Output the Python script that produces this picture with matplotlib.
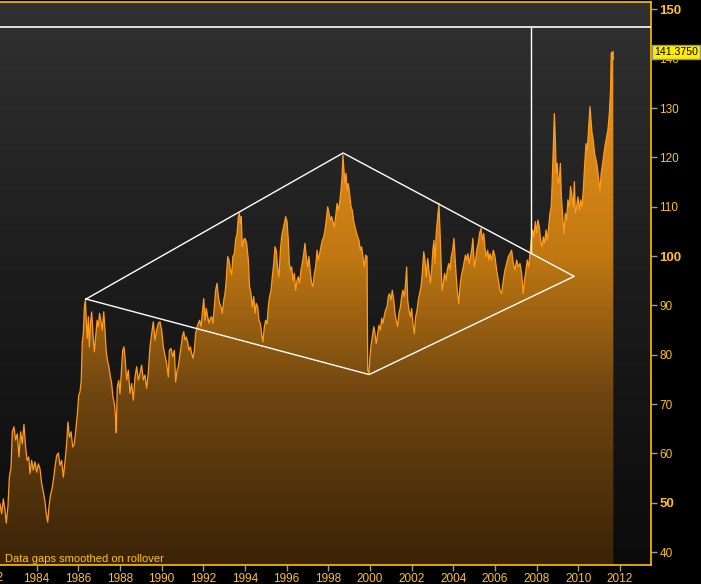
import matplotlib
matplotlib.use("Agg")
import matplotlib.pyplot as plt
import numpy as np
from matplotlib.colors import LinearSegmentedColormap
from matplotlib.patches import Polygon

plt.rcParams['font.family'] = ['Liberation Sans', 'DejaVu Sans']

# price series (decimal year, price)
years = [
    1982.24, 1982.32, 1982.40, 1982.48, 1982.54, 1982.62, 1982.69, 1982.77, 1982.83, 1982.91,
    1982.99, 1983.07, 1983.15, 1983.23, 1983.31, 1983.39, 1983.47, 1983.54, 1983.62, 1983.68,
    1983.76, 1983.84, 1983.92, 1984.00, 1984.08, 1984.16, 1984.24, 1984.32, 1984.40, 1984.46,
    1984.53, 1984.59, 1984.66, 1984.74, 1984.82, 1984.88, 1984.96, 1985.04, 1985.12, 1985.20,
    1985.28, 1985.36, 1985.44, 1985.50, 1985.57, 1985.65, 1985.73, 1985.81, 1985.89, 1985.95,
    1986.02, 1986.08, 1986.14, 1986.19, 1986.24, 1986.29, 1986.34, 1986.38, 1986.43, 1986.48,
    1986.53, 1986.58, 1986.64, 1986.70, 1986.77, 1986.83, 1986.90, 1986.96, 1987.02, 1987.09,
    1987.15, 1987.22, 1987.28, 1987.34, 1987.41, 1987.47, 1987.54, 1987.60, 1987.66, 1987.73,
    1987.78, 1987.82, 1987.87, 1987.94, 1988.00, 1988.06, 1988.13, 1988.19,
    1988.24, 1988.32, 1988.40, 1988.48, 1988.56, 1988.64, 1988.72, 1988.80, 1988.88, 1988.96,
    1989.04, 1989.12, 1989.20, 1989.28, 1989.36, 1989.44, 1989.52, 1989.60, 1989.68, 1989.76,
    1989.84, 1989.92, 1990.00, 1990.08, 1990.16, 1990.24, 1990.32, 1990.37, 1990.45, 1990.53,
    1990.61, 1990.67, 1990.74, 1990.80, 1990.86, 1990.93, 1990.99, 1991.06, 1991.12, 1991.18,
    1991.25, 1991.31, 1991.38, 1991.44, 1991.50, 1991.57, 1991.63, 1991.70, 1991.76, 1991.82,
    1991.89, 1991.95, 1992.02, 1992.08, 1992.14, 1992.21, 1992.27, 1992.34, 1992.40, 1992.46,
    1992.53, 1992.59, 1992.66, 1992.72, 1992.78, 1992.85, 1992.91, 1992.98, 1993.04, 1993.10,
    1993.17, 1993.23, 1993.30, 1993.36, 1993.42, 1993.49, 1993.55, 1993.62, 1993.68, 1993.73,
    1993.78, 1993.82, 1993.87, 1993.94,
    1994.00, 1994.08, 1994.16, 1994.22, 1994.29, 1994.35, 1994.42, 1994.48, 1994.54, 1994.61,
    1994.67, 1994.74, 1994.80, 1994.86, 1994.93, 1994.99, 1995.06, 1995.12, 1995.18, 1995.25,
    1995.31, 1995.38, 1995.44, 1995.50, 1995.57, 1995.63, 1995.70, 1995.76, 1995.82, 1995.89,
    1995.95, 1996.02, 1996.08, 1996.13, 1996.18, 1996.24, 1996.30, 1996.37, 1996.43, 1996.50,
    1996.56, 1996.62, 1996.69, 1996.75, 1996.82, 1996.88, 1996.94, 1997.01, 1997.07, 1997.14,
    1997.20, 1997.26, 1997.33, 1997.39, 1997.46, 1997.52, 1997.58, 1997.65, 1997.71, 1997.78,
    1997.84, 1997.90, 1997.97, 1998.03, 1998.10, 1998.16, 1998.22, 1998.29, 1998.35, 1998.42,
    1998.48, 1998.54, 1998.61, 1998.66, 1998.70, 1998.75, 1998.80, 1998.85, 1998.90, 1998.96,
    1999.02, 1999.09, 1999.15, 1999.22, 1999.28, 1999.34, 1999.41, 1999.47, 1999.54, 1999.60,
    1999.66, 1999.73, 1999.79, 1999.86, 1999.89, 1999.95, 2000.00,
    2000.05, 2000.11, 2000.18, 2000.24, 2000.30, 2000.37, 2000.43, 2000.50, 2000.56, 2000.62,
    2000.69, 2000.75, 2000.82, 2000.88, 2000.94, 2001.01, 2001.07, 2001.14, 2001.20, 2001.26,
    2001.33, 2001.39, 2001.46, 2001.52, 2001.58, 2001.65, 2001.71, 2001.76, 2001.81, 2001.87,
    2001.94, 2002.00, 2002.06, 2002.13, 2002.19, 2002.26, 2002.32, 2002.38, 2002.45, 2002.51,
    2002.58, 2002.64, 2002.70, 2002.77, 2002.83, 2002.90, 2002.96, 2003.02, 2003.07, 2003.12,
    2003.18, 2003.25, 2003.31, 2003.36, 2003.41, 2003.46, 2003.52, 2003.58, 2003.65, 2003.71,
    2003.78, 2003.84, 2003.90, 2003.97, 2004.03, 2004.08, 2004.13, 2004.19, 2004.26, 2004.32,
    2004.38, 2004.45, 2004.51, 2004.58, 2004.64, 2004.70, 2004.77, 2004.83, 2004.90, 2004.94,
    2005.01, 2005.07, 2005.14, 2005.20, 2005.26, 2005.33, 2005.39, 2005.46, 2005.52, 2005.58,
    2005.65, 2005.71,
    2005.76, 2005.84, 2005.92, 2006.00, 2006.08, 2006.16, 2006.24, 2006.32, 2006.40, 2006.48,
    2006.56, 2006.64, 2006.72, 2006.80, 2006.88, 2006.96, 2007.04, 2007.12, 2007.20, 2007.28,
    2007.36, 2007.42, 2007.49, 2007.55, 2007.62, 2007.68, 2007.74, 2007.81, 2007.87, 2007.94,
    2008.00, 2008.06, 2008.13, 2008.19, 2008.26, 2008.32, 2008.38, 2008.45, 2008.51, 2008.58,
    2008.64, 2008.70, 2008.75, 2008.80, 2008.85, 2008.90, 2008.94, 2008.99, 2009.04, 2009.09,
    2009.14, 2009.18, 2009.25, 2009.31, 2009.38, 2009.44, 2009.50, 2009.57, 2009.63, 2009.70,
    2009.76, 2009.81, 2009.86, 2009.92, 2009.98, 2010.05, 2010.11, 2010.18, 2010.24, 2010.30,
    2010.37, 2010.43, 2010.50, 2010.56, 2010.61, 2010.66, 2010.72, 2010.78, 2010.85, 2010.91,
    2010.98, 2011.04, 2011.10, 2011.17, 2011.23, 2011.30, 2011.36, 2011.42, 2011.49, 2011.55,
    2011.58, 2011.62, 2011.66, 2011.68,
]
prices = [
    49.8, 47.8, 50.8, 48.5, 45.9, 49.2, 55.2, 57.3, 64.4, 65.4,
    62.7, 64.0, 59.3, 64.4, 62.0, 65.9, 61.3, 58.6, 59.3, 55.9,
    58.6, 56.6, 58.3, 56.2, 57.9, 56.9, 53.9, 52.2, 50.2, 47.8,
    46.1, 49.2, 51.5, 52.9, 55.2, 57.3, 59.6, 60.1, 57.6, 58.6,
    55.2, 58.3, 62.0, 66.4, 63.3, 64.4, 61.3, 62.0, 65.4, 67.8,
    71.8, 72.5, 74.8, 82.6, 84.3, 89.7, 91.1, 87.0, 83.3, 87.7,
    81.6, 86.3, 88.7, 84.3, 80.6, 83.6, 87.0, 85.7, 88.4, 86.7,
    85.0, 88.7, 85.0, 80.6, 78.6, 77.5, 75.5, 74.2, 71.5, 70.1,
    67.7, 64.2, 73.5, 74.8, 72.1, 76.2, 80.9, 81.6,
    79.6, 74.9, 76.9, 72.2, 74.2, 70.8, 75.5, 77.6, 74.9, 76.2,
    77.9, 74.9, 75.9, 73.2, 76.5, 81.6, 84.3, 86.7, 83.0, 85.0,
    86.4, 86.7, 85.0, 81.6, 79.9, 78.2, 75.5, 80.9, 81.3, 79.6,
    80.9, 74.5, 76.9, 77.6, 79.6, 81.6, 83.6, 84.7, 83.0, 83.6,
    82.6, 80.9, 81.6, 80.3, 79.3, 80.9, 84.3, 85.7, 86.4, 87.0,
    85.7, 88.4, 91.4, 87.0, 89.4, 87.7, 86.4, 87.4, 87.7, 86.4,
    89.7, 93.1, 94.5, 91.8, 90.4, 89.7, 88.4, 91.1, 92.4, 95.1,
    99.9, 99.2, 97.2, 96.2, 99.9, 100.5, 103.3, 104.6, 108.0, 108.7,
    106.6, 108.0, 101.9, 103.3,
    103.6, 102.6, 99.2, 93.8, 92.4, 89.7, 91.8, 88.4, 90.4, 89.7,
    87.0, 86.3, 84.3, 82.6, 85.7, 87.0, 86.3, 89.7, 91.8, 93.1,
    95.8, 98.5, 101.9, 101.2, 97.5, 95.8, 101.2, 103.9, 105.3, 106.6,
    108.0, 107.0, 103.2, 98.5, 97.2, 97.8, 95.1, 96.5, 93.1, 95.1,
    95.8, 94.5, 97.2, 98.5, 100.5, 102.6, 99.9, 97.8, 99.9, 96.5,
    94.5, 93.8, 96.5, 97.8, 101.2, 99.2, 100.5, 101.9, 103.2, 103.9,
    105.3, 107.3, 110.0, 108.7, 107.3, 108.0, 107.0, 105.9, 108.0, 110.7,
    109.3, 110.7, 113.4, 116.1, 120.5, 117.4, 114.7, 116.8, 113.4, 114.7,
    112.7, 110.0, 109.3, 107.0, 105.9, 104.9, 103.9, 103.2, 101.2, 101.9,
    99.9, 97.8, 100.2, 99.9, 76.9, 76.2, 79.6,
    81.9, 83.6, 85.7, 84.3, 82.3, 84.3, 86.0, 85.0, 87.4, 86.4,
    88.0, 89.1, 89.7, 91.8, 92.4, 91.1, 93.1, 91.1, 88.4, 87.0,
    85.7, 88.4, 89.7, 91.8, 93.1, 91.8, 94.5, 97.8, 91.1, 89.1,
    87.7, 89.4, 86.4, 84.3, 87.7, 89.1, 91.1, 92.4, 93.8, 96.5,
    100.9, 99.2, 95.8, 99.5, 97.2, 94.5, 97.2, 101.2, 103.2, 98.5,
    104.6, 108.0, 110.7, 105.3, 99.2, 93.1, 94.5, 96.5, 95.1, 97.2,
    98.5, 97.2, 99.9, 101.2, 103.6, 99.9, 96.5, 93.1, 90.4, 93.8,
    95.8, 97.2, 98.5, 100.2, 99.2, 100.5, 98.5, 99.9, 101.9, 103.6,
    97.8, 99.2, 101.6, 102.6, 104.6, 105.6, 103.2, 104.6, 101.6, 99.9,
    101.2, 99.2,
    100.5, 99.2, 101.2, 99.9, 97.2, 95.1, 93.1, 92.4, 95.1, 97.2,
    98.5, 99.9, 100.5, 101.2, 98.5, 97.2, 99.2, 97.8, 98.5, 96.5,
    92.4, 95.1, 97.2, 99.2, 97.8, 100.5, 103.2, 105.3, 103.9, 107.0,
    104.6, 107.3, 105.9, 103.2, 101.9, 103.9, 102.6, 105.3, 103.2, 105.9,
    108.7, 110.0, 115.4, 122.2, 128.9, 123.5, 116.8, 118.8, 114.7, 115.4,
    118.8, 112.7, 108.0, 104.6, 108.7, 107.3, 111.4, 110.0, 114.1, 112.0,
    110.0, 115.1, 108.7, 110.0, 112.0, 109.3, 111.4, 110.0, 113.4, 118.1,
    122.8, 121.5, 126.2, 130.3, 127.6, 124.9, 123.5, 120.8, 119.5, 118.1,
    115.4, 113.4, 116.8, 118.8, 120.8, 122.8, 124.2, 125.5, 128.9, 133.7,
    141.1, 141.4, 139.8, 141.375,
]
last_price = 141.375
note = "Data gaps smoothed on rollover"

# drawn trendlines: diamond (left, top, right, bottom) and the marker lines
diamond_years = [1986.37, 1998.71, 2009.80, 1999.96, 1986.37]
diamond_prices = [91.3, 120.9, 95.9, 76.0, 91.3]
hline_price = 146.45
vline_year = 2007.73
vline_bottom = 100.6

x_ticks = list(range(1984, 2013, 2))
y_ticks = list(range(40, 151, 10))
bold_y = [50, 100, 150]

xmin, xmax = 1982.24, 2013.49
ymin, ymax = 37.4, 151.5
label_color = '#ffc21a'

fig = plt.figure(figsize=(7.01, 5.84), dpi=100, facecolor='black')
ax = fig.add_axes([0, 19 / 584, 651 / 701, 563 / 584])
ax.set_xlim(xmin, xmax)
ax.set_ylim(ymin, ymax)

# dark gradient background
bg = LinearSegmentedColormap.from_list('bg', ['#0b0b0b', '#1c1c1c', '#313131'])
grad = np.linspace(0, 1, 256).reshape(-1, 1)
ax.imshow(grad, cmap=bg, origin='lower', extent=[xmin, xmax, ymin, ymax],
          aspect='auto', zorder=0)

# orange gradient fill under the price line
fill_cmap = LinearSegmentedColormap.from_list(
    'fill', [(0.0, '#3a2307'), (0.3, '#6e4510'), (0.55, '#c07812'), (1.0, '#ffa020')])
im = ax.imshow(grad, cmap=fill_cmap, origin='lower', extent=[xmin, xmax, ymin, ymax],
               aspect='auto', zorder=1)
verts = [(years[0], ymin)] + list(zip(years, prices)) + [(years[-1], ymin)]
poly = Polygon(verts, closed=True, facecolor='none', edgecolor='none')
ax.add_patch(poly)
im.set_clip_path(poly)

ax.plot(years, prices, color='#ff9c1c', lw=0.9, zorder=2)

# white trendlines
ax.plot(diamond_years, diamond_prices, color='white', lw=1.0, zorder=3)
ax.axhline(hline_price, color='white', lw=1.2, zorder=3)
ax.plot([vline_year, vline_year], [hline_price, vline_bottom], color='white', lw=1.0, zorder=3)

# spines
for side in ['top', 'right', 'bottom']:
    ax.spines[side].set_color('#ffbf00')
    ax.spines[side].set_linewidth(1.2)
ax.spines['left'].set_visible(False)

ax.yaxis.tick_right()
ax.set_yticks(y_ticks)
ax.set_yticklabels([str(v) for v in y_ticks])
for lab, v in zip(ax.get_yticklabels(), y_ticks):
    if v in bold_y:
        lab.set_fontweight('bold')
        lab.set_fontsize(9.5)
    else:
        lab.set_fontsize(8.5)
ax.set_xticks(x_ticks)
ax.set_xticklabels([str(v) for v in x_ticks], fontsize=8.5)
ax.tick_params(axis='both', colors='#9a9a9a', labelcolor=label_color, length=4,
               width=1, pad=2)
ax.tick_params(axis='y', left=False, right=True)

# cut-off 1982 label at the left edge
ax.text(1981.75, -0.012, '1982', transform=ax.get_xaxis_transform(), ha='center',
        va='top', fontsize=8.5, color=label_color, clip_on=False)

# last price box
ax.text(1.005, last_price, f'{last_price:.4f}', transform=ax.get_yaxis_transform(),
        ha='left', va='center', fontsize=7.6, color='black', zorder=5, clip_on=False,
        bbox=dict(boxstyle='square,pad=0.22', facecolor='#ffee00', edgecolor='#909090', lw=1))

ax.text(0.008, 0.002, note, transform=ax.transAxes, ha='left', va='bottom',
        fontsize=8, color=label_color, zorder=5)

fig.savefig('out.png', dpi=100, facecolor='black')
